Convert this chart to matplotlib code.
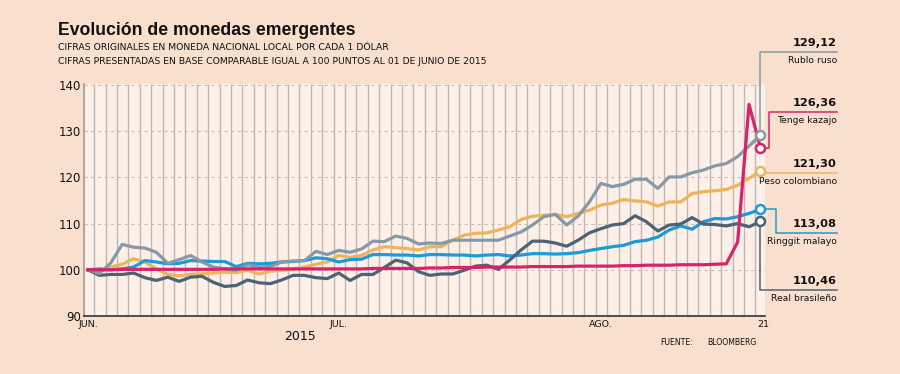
import numpy as np
import matplotlib
matplotlib.use("Agg")
import matplotlib.pyplot as plt

# business days 1 jun - 21 aug 2015, base 100 = 01 jun
rublo = [100.0, 99.2, 101.5, 105.5, 104.9, 104.7, 103.8, 101.4, 102.2, 103.1,
         101.7, 100.6, 100.2, 99.9, 101.1, 100.6, 100.7, 101.7, 101.9, 102.0,
         104.0, 103.3, 104.2, 103.8, 104.5, 106.2, 106.1, 107.3, 106.8, 105.6,
         105.8, 105.7, 106.4, 106.4, 106.4, 106.4, 106.4, 107.3, 108.2, 109.7,
         111.5, 112.0, 109.7, 111.6, 114.7, 118.7, 118.0, 118.5, 119.6, 119.6,
         117.6, 120.1, 120.1, 121.0, 121.6, 122.5, 123.0, 124.5, 126.8, 129.12]
tenge = [100.0, 100.0, 100.0, 100.1, 100.1, 100.1, 100.1, 100.1, 100.1, 100.1,
         100.1, 100.1, 100.2, 100.2, 100.2, 100.2, 100.2, 100.2, 100.2, 100.2,
         100.2, 100.2, 100.2, 100.2, 100.2, 100.3, 100.3, 100.3, 100.3, 100.3,
         100.4, 100.4, 100.5, 100.5, 100.5, 100.6, 100.6, 100.6, 100.6, 100.7,
         100.7, 100.7, 100.7, 100.8, 100.8, 100.8, 100.8, 100.9, 100.9, 101.0,
         101.0, 101.0, 101.1, 101.1, 101.1, 101.2, 101.3, 106.0, 135.8, 126.36]
peso = [100.0, 99.5, 100.6, 101.2, 102.4, 101.7, 100.2, 99.0, 98.7, 99.0,
        99.1, 99.3, 99.5, 99.4, 99.9, 99.1, 99.7, 99.9, 100.1, 100.6,
        101.2, 101.7, 103.1, 102.7, 103.1, 104.3, 105.0, 104.8, 104.6, 104.3,
        105.0, 105.0, 106.4, 107.5, 107.9, 108.0, 108.6, 109.3, 110.9, 111.6,
        111.8, 112.0, 111.5, 112.2, 112.9, 114.0, 114.4, 115.2, 114.9, 114.7,
        113.8, 114.7, 114.7, 116.5, 116.9, 117.1, 117.4, 118.3, 119.8, 121.30]
ringgit = [100.0, 100.2, 100.0, 100.2, 100.6, 102.0, 101.7, 101.3, 101.4, 102.0,
           101.9, 101.8, 101.8, 100.7, 101.4, 101.3, 101.4, 101.7, 101.8, 102.0,
           102.6, 102.4, 101.7, 102.2, 102.3, 103.3, 103.3, 103.2, 103.2, 103.0,
           103.3, 103.3, 103.2, 103.2, 103.0, 103.2, 103.3, 103.0, 103.2, 103.5,
           103.5, 103.4, 103.5, 103.7, 104.2, 104.6, 105.0, 105.3, 106.1, 106.4,
           107.1, 108.6, 109.5, 108.8, 110.4, 111.1, 111.0, 111.5, 112.2, 113.08]
real = [100.0, 98.8, 99.0, 99.0, 99.3, 98.3, 97.7, 98.4, 97.5, 98.4,
        98.6, 97.3, 96.4, 96.6, 97.8, 97.2, 97.0, 97.8, 98.8, 98.8,
        98.3, 98.1, 99.3, 97.7, 99.0, 99.0, 100.5, 102.1, 101.5, 99.6,
        98.8, 99.1, 99.1, 99.9, 100.8, 101.0, 100.1, 102.1, 104.3, 106.2,
        106.2, 105.8, 105.1, 106.4, 108.0, 108.9, 109.7, 110.0, 111.7, 110.4,
        108.4, 109.7, 109.9, 111.3, 109.9, 109.8, 109.5, 110.0, 109.3, 110.46]

names = ["Rublo ruso", "Tenge kazajo", "Peso colombiano", "Ringgit malayo", "Real brasileño"]
values = ["129,12", "126,36", "121,30", "113,08", "110,46"]
tick_pos = [0, 22, 45, 59.25]
tick_labels = ["JUN.", "JUL.", "AGO.", "21"]

colors = {"Rublo ruso": "#8799a7", "Tenge kazajo": "#d8236b", "Peso colombiano": "#f1b35a",
          "Ringgit malayo": "#1d9ad9", "Real brasileño": "#4d6374"}
series = {"Rublo ruso": rublo, "Tenge kazajo": tenge, "Peso colombiano": peso,
          "Ringgit malayo": ringgit, "Real brasileño": real}

fig_bg = "#f9e0ce"
ax_bg = "#fcf0e8"
fig = plt.figure(figsize=(9, 3.74), dpi=100, facecolor=fig_bg)
ax = fig.add_axes([0.0933, 0.155, 0.7567, 0.6215])
ax.set_facecolor(ax_bg)

x = np.arange(len(rublo))
ax.set_xlim(-0.35, 59.4)
ax.set_ylim(90, 140.3)

# vertical day lines + dashed horizontal grid
ax.vlines(x[:-1] + 0.55, 90, 140.3, color="#c0b7b2", lw=1.0, zorder=1)
for v in [100, 110, 120, 130, 140]:
    ax.axhline(v, color="#c9bdb7", lw=0.8, ls=(0, (3, 3)), zorder=1)

order = ["Peso colombiano", "Ringgit malayo", "Real brasileño", "Rublo ruso", "Tenge kazajo"]
for n in order:
    ax.plot(x, series[n], color=colors[n], lw=2.3, zorder=3, solid_joinstyle="round")

# leader lines to labels (x in day units, y in index units)
xr = 65.7
leaders = {
    "Rublo ruso": ([59, 59, xr], [rublo[-1], 147.2, 147.2]),
    "Tenge kazajo": ([59, 59.75, 59.75, xr], [tenge[-1], tenge[-1], 134.2, 134.2]),
    "Peso colombiano": ([59, xr], [121.0, 121.0]),
    "Ringgit malayo": ([59, 60.35, 60.35, xr], [ringgit[-1], ringgit[-1], 108.0, 108.0]),
    "Real brasileño": ([59, 59, xr], [real[-1], 95.6, 95.6]),
}
for n, v in zip(names, values):
    lx, ly = leaders[n]
    ax.plot(lx, ly, color=colors[n], lw=1.1, clip_on=False, zorder=2)
    ax.plot([59], [series[n][-1]], "o", ms=6.5, mfc="white", mec=colors[n], mew=1.8,
            clip_on=False, zorder=5)
    ax.text(xr, ly[-1] + 0.9, v, ha="right", va="bottom", fontsize=8.2,
            fontweight="bold", color="#111111")
    ax.text(xr, ly[-1] - 0.9, n, ha="right", va="top", fontsize=6.7, color="#111111")

for s in ["top", "right"]:
    ax.spines[s].set_visible(False)
ax.spines["left"].set_color("#b0a7a2")
ax.spines["left"].set_linewidth(1.5)
ax.spines["bottom"].set_color("#333333")
ax.spines["bottom"].set_linewidth(1.2)

ax.set_yticks([90, 100, 110, 120, 130, 140])
ax.tick_params(axis="y", length=0, pad=2, labelsize=8.5, labelcolor="#111111")
ax.set_xticks(tick_pos)
ax.set_xticklabels(tick_labels, fontsize=6.8)
ax.tick_params(axis="x", length=0, pad=3, labelcolor="#111111")

fig.text(0.0644, 0.906, "Evolución de monedas emergentes", fontsize=12.7,
         fontweight="bold", family=["Liberation Sans", "DejaVu Sans"],
         color="#111111", va="baseline")
fig.text(0.0644, 0.866, "CIFRAS ORIGINALES EN MONEDA NACIONAL LOCAL POR CADA 1 DÓLAR",
         fontsize=6.7, va="baseline", color="#111111")
fig.text(0.0644, 0.829, "CIFRAS PRESENTADAS EN BASE COMPARABLE IGUAL A 100 PUNTOS AL 01 DE JUNIO DE 2015",
         fontsize=6.7, va="baseline", color="#111111")
fig.text(0.333, 0.099, "2015", fontsize=9, ha="center", va="center", color="#111111")
fig.text(0.734, 0.083, "FUENTE:", fontsize=5.6, ha="left", va="center", color="#111111")
fig.text(0.786, 0.083, "BLOOMBERG", fontsize=5.6, ha="left", va="center", color="#111111")

fig.savefig("out.png", dpi=100, facecolor=fig_bg)
